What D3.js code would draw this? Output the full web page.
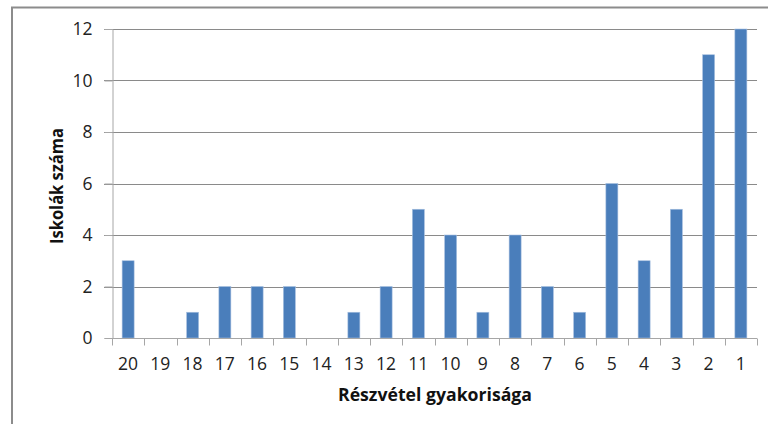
<!DOCTYPE html>
<html><head><meta charset="utf-8">
<script src="https://cdn.jsdelivr.net/npm/d3@7/dist/d3.min.js"></script>
<style>body{margin:0;background:#fff}svg{display:block}</style>
</head><body>
<script>
const categories = ["20","19","18","17","16","15","14","13","12","11","10","9","8","7","6","5","4","3","2","1"];
const values = [3,0,1,2,2,2,0,1,2,5,4,1,4,2,1,6,3,5,11,12];
const yTicks = [0,2,4,6,8,10,12];
const xTitle = "Részvétel gyakorisága";
const yTitle = "Iskolák száma";

const W = 768, H = 424;
const svg = d3.select("body").append("svg").attr("width", W).attr("height", H);
const font = "'Open Sans', 'Liberation Sans', sans-serif";

// frame
svg.append("path").attr("d", `M12,${H+2}V7.5H${W+2}`).attr("fill","none").attr("stroke","#8c8c8c").attr("stroke-width",2);

const pLeft = 112, pRight = 757, pTop = 29, pBottom = 338;
const x = d3.scaleBand().domain(categories).range([pLeft, pRight]);
const y = d3.scaleLinear().domain([0, 12]).range([pBottom, pTop]);

// gridlines
svg.append("g").selectAll("line").data(yTicks.filter(d => d > 0)).join("line")
  .attr("x1", pLeft - 8).attr("x2", pRight)
  .attr("y1", d => Math.round(y(d)) + 0.5).attr("y2", d => Math.round(y(d)) + 0.5)
  .attr("stroke", "#8a8a8a").attr("stroke-width", 1);

// bars
const bw = 12;
svg.append("g").selectAll("rect").data(values).join("rect")
  .attr("x", (d, i) => x(categories[i]) + x.bandwidth()/2 - bw/2)
  .attr("width", bw)
  .attr("y", d => y(d))
  .attr("height", d => y(0) - y(d))
  .attr("fill", "#4a7ebb")
  .attr("stroke", "#a7c0e0").attr("stroke-width", 0.6);

// y axis
const gy = svg.append("g").attr("transform", `translate(${pLeft + 0.5},0)`)
  .call(d3.axisLeft(y).tickValues(yTicks).tickSize(8).tickPadding(12));
gy.select(".domain").attr("stroke", "#a6a6a6");
gy.selectAll(".tick line").attr("stroke", "#a6a6a6");
gy.selectAll("text").attr("font-family", font).attr("font-size", 17.5).attr("fill", "#222").attr("dy", "0.34em");

// x axis
const gx = svg.append("g").attr("transform", `translate(0,${pBottom + 0.5})`);
gx.append("line").attr("x1", pLeft).attr("x2", pRight).attr("stroke", "#a6a6a6");
const edges = categories.map(c => x(c)).concat([pRight]);
gx.selectAll(".tk").data(edges).join("line").attr("class","tk")
  .attr("x1", d => Math.round(d) + 0.5).attr("x2", d => Math.round(d) + 0.5)
  .attr("y1", 0).attr("y2", 7).attr("stroke", "#a6a6a6");
gx.selectAll("text").data(categories).join("text")
  .attr("x", d => x(d) + x.bandwidth()/2).attr("y", 31.5)
  .attr("text-anchor", "middle").attr("font-family", font).attr("font-size", 17.5).attr("fill", "#222")
  .text(d => d);

// titles
svg.append("text").attr("x", 435).attr("y", 400.5).attr("text-anchor", "middle")
  .attr("font-family", font).attr("font-size", 17).attr("font-weight", "bold").attr("fill", "#111")
  .attr("textLength", 194).attr("lengthAdjust", "spacingAndGlyphs")
  .text(xTitle);
svg.append("text").attr("transform", "translate(62.5,186) rotate(-90)").attr("text-anchor", "middle")
  .attr("font-family", font).attr("font-size", 17).attr("font-weight", "bold").attr("fill", "#111")
  .attr("textLength", 116).attr("lengthAdjust", "spacingAndGlyphs")
  .text(yTitle);
</script>
</body></html>
